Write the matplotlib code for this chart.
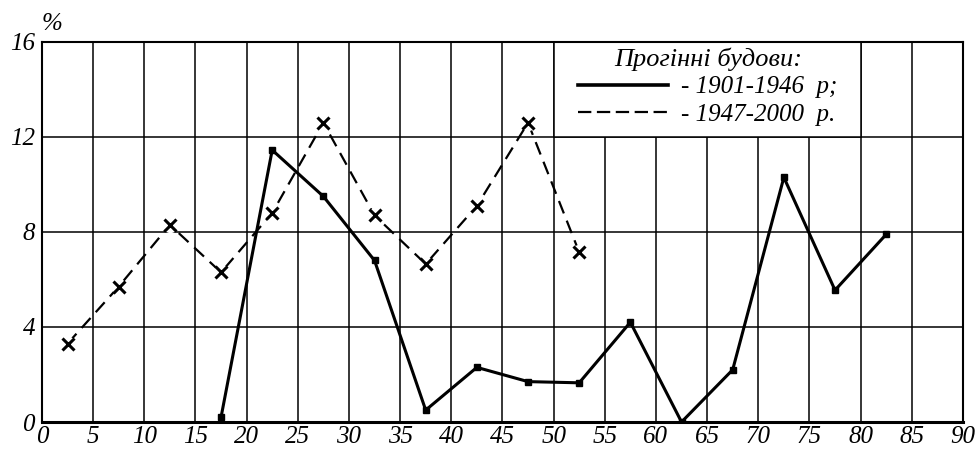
import numpy as np
import matplotlib.pyplot as plt
from matplotlib.lines import Line2D
from matplotlib.patches import Rectangle

plt.rcParams['font.family'] = ['Liberation Serif', 'DejaVu Serif']
plt.rcParams['font.style'] = 'italic'

# spans (m) and share of bridges (%)
span_old = [17.5, 22.5, 27.5, 32.5, 37.5, 42.5, 47.5, 52.5, 57.5, 62.5, 67.5, 72.5, 77.5, 82.5]
share_old = [0.2, 11.45, 9.5, 6.8, 0.5, 2.3, 1.7, 1.65, 4.2, 0.0, 2.2, 10.3, 5.55, 7.9]
span_new = [2.5, 7.5, 12.5, 17.5, 22.5, 27.5, 32.5, 37.5, 42.5, 47.5, 52.5]
share_new = [3.3, 5.7, 8.3, 6.3, 8.8, 12.6, 8.7, 6.65, 9.1, 12.6, 7.15]

x_ticks = np.arange(0, 91, 5)
y_ticks = np.arange(0, 17, 4)

fig = plt.figure(figsize=(9.78, 4.51), dpi=100)
ax = fig.add_axes([0.0429, 0.0643, 0.9417, 0.8426])

ax.set_xlim(0, 90)
ax.set_ylim(0, 16)
ax.set_xticks(x_ticks)
ax.set_yticks(y_ticks)
ax.set_axisbelow(True)
ax.grid(color='black', lw=1.1)
ax.tick_params(length=0, labelsize=18)
ax.tick_params(axis='x', pad=3)
ax.tick_params(axis='y', pad=5)
for s in ax.spines.values():
    s.set_linewidth(1.5)
ax.spines['bottom'].set_linewidth(2.2)

# white box for the legend, covering the grid cells
ax.add_patch(Rectangle((50, 12), 30, 4, facecolor='white', edgecolor='black', lw=1.1, zorder=1))

ax.plot(span_new, share_new, color='black', lw=1.6, dashes=(6, 3.5), zorder=3)
ax.plot(span_new, share_new, ls='none', marker='o', ms=11, mfc='white', mec='none', zorder=4)
ax.plot(span_new, share_new, ls='none', marker='x', ms=8.5, mew=2.2, color='black', zorder=5)

ax.plot(span_old, share_old, color='black', lw=2.2, marker='s', ms=4.5, zorder=6)

fig.text(52 / 978, 1 - 24 / 451, '%', fontsize=18, ha='center', va='center')

handles = [Line2D([], [], color='black', lw=2.6),
           Line2D([], [], color='black', lw=1.6, dashes=(6, 2.5))]
labels = ['- 1901-1946  р;', '- 1947-2000  р.']
leg = ax.legend(handles, labels, title='Прогінні будови:', loc='upper left',
                bbox_to_anchor=(51.2, 16.3), bbox_transform=ax.transData,
                frameon=False, fontsize=18, title_fontsize=19,
                handlelength=3.6, handletextpad=0.5, labelspacing=0.2, borderpad=0.0)
leg.set_zorder(7)

fig.savefig('out.png', dpi=100)
